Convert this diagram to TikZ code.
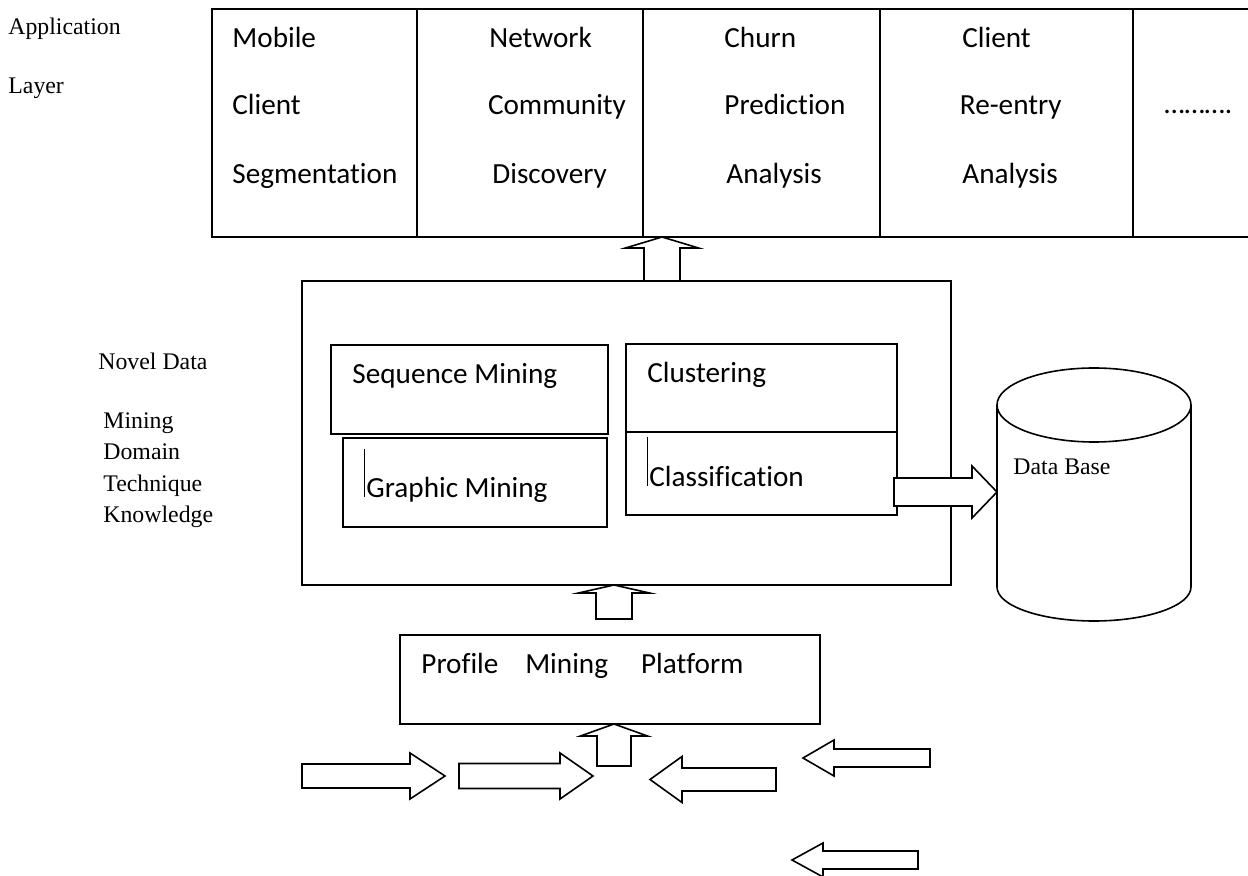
\documentclass[tikz,border=0pt]{standalone}
\usepackage{fontspec}
\setmainfont{Liberation Serif}
\newfontfamily\boxfont[Ligatures=NoCommon]{Carlito}

\tikzset{
  box/.style={draw, line width=0.8pt},
  blockarrow/.style={draw, fill=white, line width=0.8pt, line join=miter},
  applabel/.style={font=\boxfont\fontsize{14.6}{17}\selectfont, anchor=base west, inner sep=0pt},
  sidelabel/.style={font=\fontsize{11.9}{14}\selectfont, anchor=base west, inner sep=0pt},
  cursor/.style={draw, line width=0.5pt}
}

% tail x, head base x, tip x, y, shaft half, head half
\newcommand{\hblockarrow}[6]{%
  \draw[blockarrow] (#1,{#4-#5}) -- (#2,{#4-#5}) -- (#2,{#4-#6}) -- (#3,#4) -- (#2,{#4+#6}) -- (#2,{#4+#5}) -- (#1,{#4+#5}) -- cycle;}
% tail y, head base y, tip y, x, shaft half, head half
\newcommand{\vblockarrow}[6]{%
  \draw[blockarrow] ({#4-#5},#1) -- ({#4-#5},#2) -- ({#4-#6},#2) -- (#4,#3) -- ({#4+#6},#2) -- ({#4+#5},#2) -- ({#4+#5},#1) -- cycle;}

\begin{document}
\begin{tikzpicture}[x=0.5pt,y=-0.5pt]
            \useasboundingbox (0,0) rectangle (1248,876);

            % application layer
            \draw[box] (212,9) rectangle (1262,237);
            \foreach \x in {417, 643, 880, 1133} {
                \draw[box] (\x,9) -- (\x,237);
            }
            \node[sidelabel] (app) at (8,35) {Application};
            \node[sidelabel] (layer) at (8,94) {Layer};

            \node[applabel] (mobile) at (232,48) {Mobile};
            \node[applabel] (client) at (232,115) {Client};
            \node[applabel] (segment) at (232,184) {Segmentation};
            \node[applabel] (network) at (489,48) {Network};
            \node[applabel] (community) at (487.6,115) {Community};
            \node[applabel] (discovery) at (492,184) {Discovery};
            \node[applabel] (churn) at (724,48) {Churn};
            \node[applabel] (prediction) at (724,115) {Prediction};
            \node[applabel] (analysisA) at (726,184) {Analysis};
            \node[applabel] (clientB) at (962,48) {Client};
            \node[applabel] (reentry) at (959.5,115) {Re-entry};
            \node[applabel] (analysisB) at (962,184) {Analysis};
            \node[applabel] (dots) at (1164,114) {……….};

            \vblockarrow{281}{248}{237}{662}{18}{36.5}

            % mining domain
            \draw[box] (302,281) rectangle (951,585);
            \draw[box] (331,345) rectangle (608,434);
            \draw[box] (343,438) rectangle (607,527);
            \draw[box] (626,344) rectangle (897,432);
            \draw[box] (626,432) rectangle (897,515);
            \node[applabel] (sequence) at (352,384) {Sequence Mining};
            \node[applabel] (graphic) at (366,498) {Graphic Mining};
            \node[applabel] (clustering) at (647,383) {Clustering};
            \node[applabel] (classification) at (649,487) {Classification};
            \draw[cursor] (364.5,449) -- (364.5,497);
            \draw[cursor] (647.6,437) -- (647.6,486);

            \node[sidelabel] (novel) at (98,370) {Novel Data};
            \node[sidelabel] (mining) at (103,429) {Mining};
            \node[sidelabel] (domain) at (103,460) {Domain};
            \node[sidelabel] (technique) at (103,492) {Technique};
            \node[sidelabel] (knowledge) at (103,523) {Knowledge};

            % data base
            \draw[box] (1094,405) ellipse [x radius=97, y radius=37];
            \draw[box] (997,405) -- (997,587) arc[start angle=180, end angle=0, x radius=97, y radius=34] -- (1191,405);
            \node[sidelabel] (database) at (1013,475) {Data Base};

            \hblockarrow{894}{972}{997}{492}{14}{26}

            % profile platform
            \vblockarrow{619}{593}{585}{614}{18}{35.5}
            \draw[box] (400,635) rectangle (820,724);
            \node[applabel] (profile) at (421,674) {Profile\hspace{0.92em}Mining\hspace{1.13em}Platform};
            \vblockarrow{766}{736}{724}{614}{17}{33.5}

            % input arrows
            \hblockarrow{302}{410}{445}{776}{12}{23}
            \hblockarrow{459}{560}{593}{776}{12.5}{23}
            \hblockarrow{776}{682}{650}{779.5}{11.5}{23}
            \hblockarrow{930}{834}{803}{758}{9}{18}
            \hblockarrow{918}{823}{792}{860}{9}{17}
        \end{tikzpicture}
\end{document}
